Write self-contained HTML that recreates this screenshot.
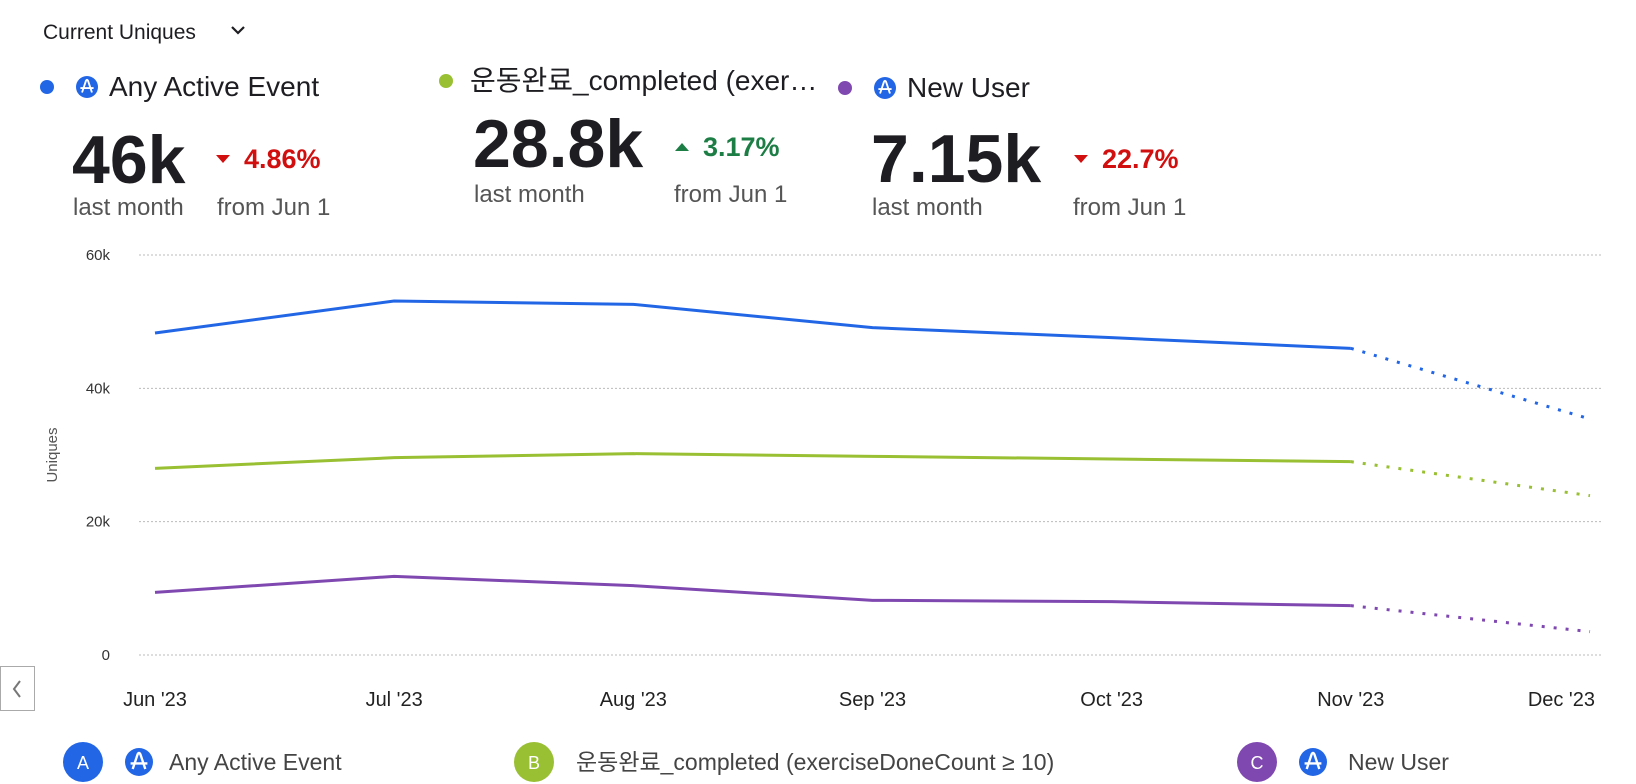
<!DOCTYPE html>
<html><head><meta charset="utf-8"><style>
html,body{margin:0;padding:0;background:#fff;width:1636px;height:784px;overflow:hidden}
svg{display:block;font-family:"Liberation Sans","Noto Sans CJK KR",sans-serif}
</style></head><body>
<svg id="chart" width="1636" height="784" viewBox="0 0 1636 784">
<g>
 <g>
  <text x="43" y="39" font-size="21" fill="#1e1e22">Current Uniques</text>
  <path d="M232 27 l6 6 l6 -6" fill="none" stroke="#1e1e22" stroke-width="2.2"/>
 </g>
</g>
<g id="cards"></g>
<g id="grid"></g>
<g id="series"></g>
<g id="xlabels"></g>
<text x="57" y="455" font-size="15" fill="#555" text-anchor="middle" transform="rotate(-90 57 455)">Uniques</text>
<g>
 <rect x="0.5" y="666.5" width="34" height="44" fill="#fff" stroke="#aaa"/>
 <path d="M20 681 l-6 8 l6 8" fill="none" stroke="#777" stroke-width="2"/>
</g>
<g id="legend"></g>
</svg>
<script>
const months=["Jun '23","Jul '23","Aug '23","Sep '23","Oct '23","Nov '23","Dec '23"];
const yTicks=[0,20000,40000,60000];
const yTickLabels=["0","20k","40k","60k"];
const seriesA=[48300,53100,52600,49100,47600,46000,35400];
const seriesB=[28000,29600,30200,29800,29400,29000,23900];
const seriesC=[9400,11800,10400,8200,8000,7400,3500];
const names=["Any Active Event","운동완료_completed (exer…","New User"];
const fullNames=["Any Active Event","운동완료_completed (exerciseDoneCount ≥ 10)","New User"];
const bigValues=["46k","28.8k","7.15k"];
const changes=["4.86%","3.17%","22.7%"];
const changeUp=[false,true,false];
const colors=["#2266e6","#99bf33","#7f48b0"];
const NS="http://www.w3.org/2000/svg";
const x0=155,x1=1590,yBase=655,yTop=255,yMax=60000;
const xs=i=>x0+(x1-x0)*i/(months.length-1);
const ys=v=>yBase-(yBase-yTop)*v/yMax;
function mk(tag,attrs,parent,text){const e=document.createElementNS(NS,tag);for(const k in attrs)e.setAttribute(k,attrs[k]);if(text!==undefined)e.textContent=text;parent.appendChild(e);return e;}
function icon(parent,cx,cy,r){
 mk('circle',{cx:cx,cy:cy,r:r,fill:'#2266e6'},parent);
 mk('path',{d:`M${cx-r*0.6} ${cy+r*0.1} H${cx+r*0.6} M${cx-r*0.45} ${cy+r*0.5} L${cx-r*0.1} ${cy-r*0.55} Q${cx} ${cy-r*0.75} ${cx+r*0.1} ${cy-r*0.55} L${cx+r*0.45} ${cy+r*0.5}`,fill:'none',stroke:'#fff','stroke-width':r*0.17},parent);
}
const grid=document.getElementById('grid');
yTicks.forEach((t,i)=>{
 const l=mk('line',{x1:139,x2:1602,y1:ys(t),y2:ys(t),stroke:'#bbb','stroke-width':1,'stroke-dasharray':'2 2'},grid);
 
 
 const tx=mk('text',{x:110,y:ys(t)+5,'font-size':15,fill:'#333','text-anchor':'end'},grid,yTickLabels[i]);
 
 
});
const xl=document.getElementById('xlabels');
months.forEach((m,i)=>{
 const anchor=i===months.length-1?'end':'middle';
 const xx=i===months.length-1?1595:xs(i);
 const t=mk('text',{x:xx,y:706,'font-size':20,fill:'#222','text-anchor':anchor},xl,m);
 
 
});
const sg=document.getElementById('series');
[seriesA,seriesB,seriesC].forEach((s,k)=>{
 const n=s.length;
 const solid=s.slice(0,n-1).map((v,i)=>`${xs(i)},${ys(v)}`).join(' ');
 const p=mk('polyline',{points:solid,fill:'none',stroke:colors[k],'stroke-width':3,'stroke-linejoin':'round'},sg);
 
 
 const d=mk('line',{x1:xs(n-2),y1:ys(s[n-2]),x2:xs(n-1),y2:ys(s[n-1]),stroke:colors[k],'stroke-width':3,'stroke-dasharray':'3 9'},sg);
 
 
});
const cards=document.getElementById('cards');
const cardX=[47,446,845],nameY=[87,81,88],numY=[183,167,182],numX=[72,473,871],chX=[223,682,1081],chY=[159,147,159],subY=[215,202,215],fromX=[217,674,1073];
names.forEach((nm,k)=>{
 const g=mk('g',{},cards);
 
 
 mk('circle',{cx:cardX[k],cy:nameY[k],r:7,fill:colors[k]},g);
 let tx=cardX[k]+24;
 if(k!==1){icon(g,cardX[k]+40,nameY[k],11);tx=cardX[k]+62;}
 mk('text',{x:tx,y:nameY[k]+9,'font-size':28,fill:'#1e1e22'},g,nm);
 mk('text',{x:numX[k],y:numY[k],'font-size':68,'font-weight':'bold',fill:'#1e1e22'},g,bigValues[k]);
 const up=changeUp[k],c=up?'#1c7d45':'#d10f0f',ax=chX[k],ay=chY[k];
 mk('path',{d:up?`M${ax-7} ${ay+4} L${ax+7} ${ay+4} L${ax} ${ay-4}Z`:`M${ax-7} ${ay-4} L${ax+7} ${ay-4} L${ax} ${ay+4}Z`,fill:c},g);
 mk('text',{x:ax+21,y:ay+9,'font-size':27,'font-weight':'bold',fill:c},g,changes[k]);
 mk('text',{x:numX[k]+1,y:subY[k],'font-size':24,fill:'#555'},g,'last month');
 mk('text',{x:fromX[k],y:subY[k],'font-size':24,fill:'#555'},g,'from Jun 1');
});
const lg=document.getElementById('legend');
const lgC=[83,534,1257],lgT=[169,576,1348];
fullNames.forEach((nm,k)=>{
 const g=mk('g',{},lg);
 
 
 mk('circle',{cx:lgC[k],cy:762,r:20,fill:colors[k]},g);
 mk('text',{x:lgC[k],y:769,'font-size':18,fill:'#fff','text-anchor':'middle'},g,'ABC'[k]);
 if(k!==1)icon(g,lgC[k]+56,762,14);
 mk('text',{x:lgT[k],y:770,'font-size':23,fill:'#444'},g,nm);
});
</script>
</body></html>
